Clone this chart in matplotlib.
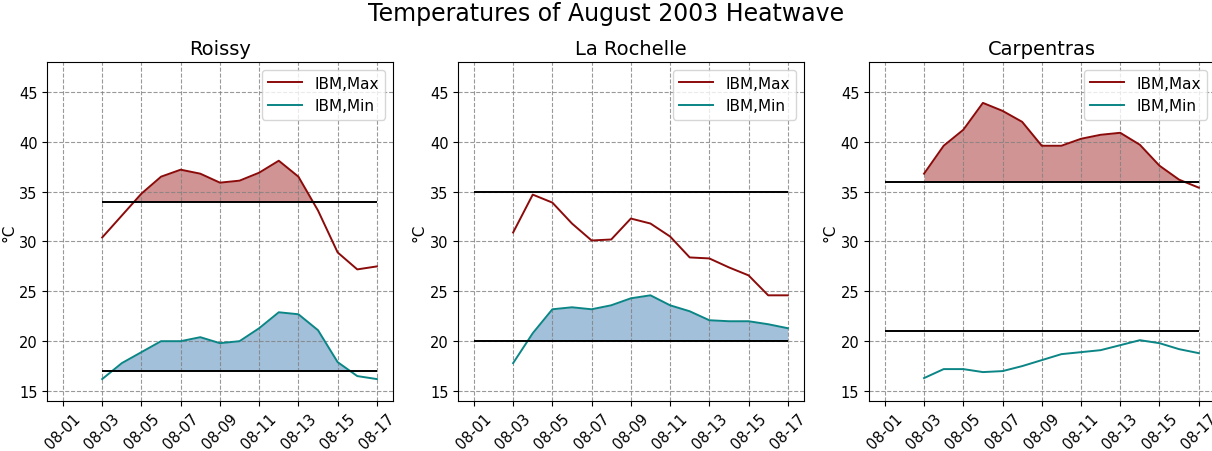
import matplotlib

matplotlib.use("Agg")
import matplotlib.dates as mdates
import matplotlib.pyplot as plt
import numpy as np
import pandas as pd

# daily values, 2003-08-03 .. 2003-08-17
days = pd.date_range("2003-08-03", "2003-08-17", freq="D")

stations = ["Roissy", "La Rochelle", "Carpentras"]

roissy_max = [30.4, 32.6, 34.8, 36.5, 37.2, 36.8, 35.9, 36.1, 36.9, 38.1, 36.5, 33.1, 28.9, 27.2, 27.5]
roissy_min = [16.2, 17.8, 18.9, 20.0, 20.0, 20.4, 19.8, 20.0, 21.3, 22.9, 22.7, 21.1, 17.9, 16.5, 16.2]

rochelle_max = [30.9, 34.7, 33.9, 31.8, 30.1, 30.2, 32.3, 31.8, 30.5, 28.4, 28.3, 27.4, 26.6, 24.6, 24.6]
rochelle_min = [17.8, 20.8, 23.2, 23.4, 23.2, 23.6, 24.3, 24.6, 23.6, 23.0, 22.1, 22.0, 22.0, 21.7, 21.3]

carpentras_max = [36.8, 39.6, 41.2, 43.9, 43.1, 42.0, 39.6, 39.6, 40.3, 40.7, 40.9, 39.7, 37.6, 36.2, 35.4]
carpentras_min = [16.3, 17.2, 17.2, 16.9, 17.0, 17.5, 18.1, 18.7, 18.9, 19.1, 19.6, 20.1, 19.8, 19.2, 18.8]

# heatwave thresholds (max, min) and first day the threshold line is drawn from
thr_max = [34, 35, 36]
thr_min = [17, 20, 21]
thr_start = ["2003-08-03", "2003-08-01", "2003-08-01"]

series = [
    (roissy_max, roissy_min),
    (rochelle_max, rochelle_min),
    (carpentras_max, carpentras_min),
]

fig, axes = plt.subplots(1, 3, figsize=(12.12, 4.52), dpi=100, sharex=True)
fig.subplots_adjust(left=0.039, right=1.002, bottom=0.1106, top=0.8606, wspace=0.19)

for ax, name, (tmax, tmin), tx, tn, t0 in zip(axes, stations, series, thr_max, thr_min, thr_start):
    tmax = np.array(tmax)
    tmin = np.array(tmin)
    ax.plot(days, tmax, color="#8b0a0a", lw=1.4, label="IBM,Max")
    ax.plot(days, tmin, color="#0b8585", lw=1.4, label="IBM,Min")
    x0 = pd.Timestamp(t0)
    x1 = days[-1]
    ax.hlines(tx, x0, x1, color="black", lw=1.4)
    ax.hlines(tn, x0, x1, color="black", lw=1.4)
    ax.fill_between(days, tmax, tx, where=tmax > tx, interpolate=True,
                    color="brown", alpha=0.5, lw=0)
    ax.fill_between(days, tmin, tn, where=tmin > tn, interpolate=True,
                    color="steelblue", alpha=0.5, lw=0)
    ax.set_title(name, fontsize=14)
    ax.set_ylabel("°C", fontsize=11, labelpad=2)
    ax.set_ylim(14, 48)
    ax.set_yticks([15, 20, 25, 30, 35, 40, 45])
    ax.grid(True, ls="--", color="gray", alpha=0.8)
    ax.legend(loc="upper right", fontsize=11, handlelength=2.2)
    ax.tick_params(labelsize=10.5)
    ax.xaxis.set_major_locator(mdates.DayLocator(bymonthday=range(1, 18, 2)))
    ax.xaxis.set_major_formatter(mdates.DateFormatter("%m-%d"))
    for lab in ax.get_xticklabels():
        lab.set_rotation(45)

axes[0].set_xlim(pd.Timestamp("2003-08-01") - pd.Timedelta(days=0.8),
                 pd.Timestamp("2003-08-17") + pd.Timedelta(days=0.8))

fig.suptitle("Temperatures of August 2003 Heatwave", fontsize=17, y=0.995)
fig.savefig("out.png", dpi=100)
